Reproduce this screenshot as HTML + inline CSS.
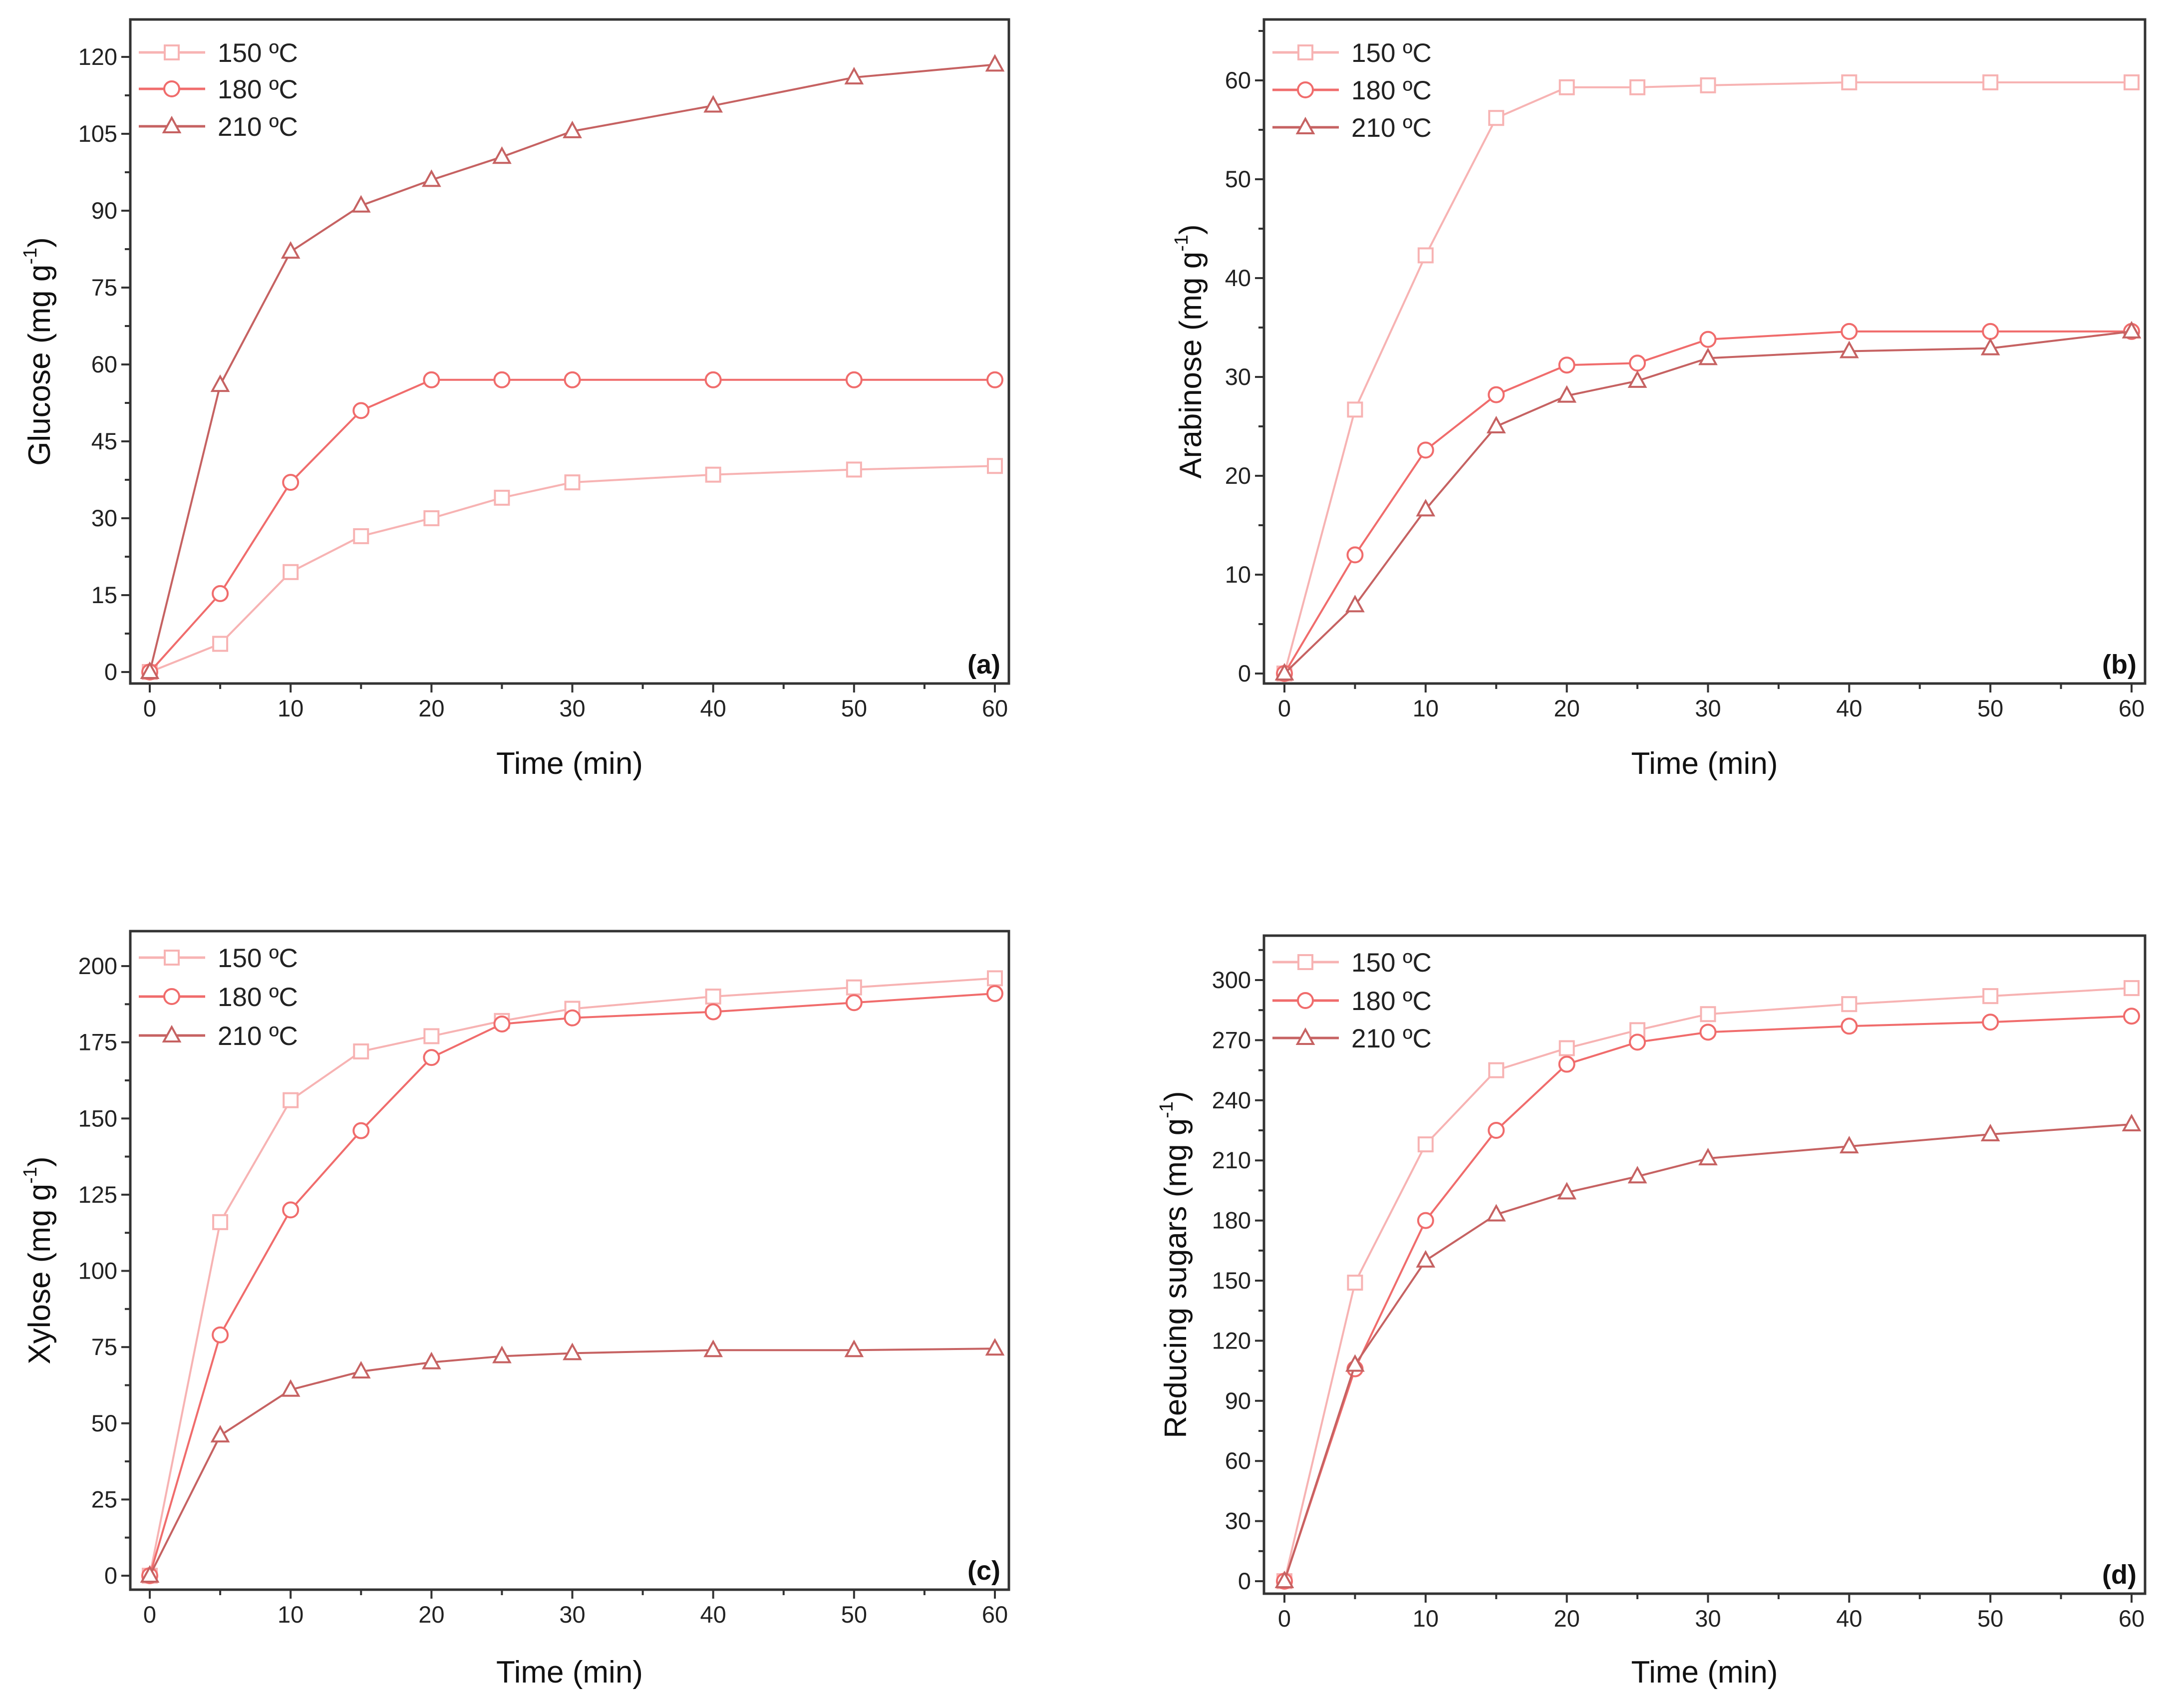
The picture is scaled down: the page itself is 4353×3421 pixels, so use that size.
<!DOCTYPE html>
<html><head><meta charset="utf-8"><style>
html,body{margin:0;padding:0;background:#fff;}
svg{display:block;font-family:"Liberation Sans",Arial,sans-serif;}
</style></head><body>
<svg id="fig" width="4353" height="3421" viewBox="0 0 4353 3421" xmlns="http://www.w3.org/2000/svg"></svg>
<script>
const times = [0,5,10,15,20,25,30,40,50,60];
const seriesNames = ["150 ºC","180 ºC","210 ºC"];
const glucose150 = [0,5.5,19.5,26.5,30,34,37,38.5,39.5,40.2];
const glucose180 = [0,15.3,37,51,57,57,57,57,57,57];
const glucose210 = [0,56,82,91,96,100.5,105.5,110.5,116,118.5];
const arabinose150 = [0,26.7,42.3,56.2,59.3,59.3,59.5,59.8,59.8,59.8];
const arabinose180 = [0,12,22.6,28.2,31.2,31.4,33.8,34.6,34.6,34.6];
const arabinose210 = [0,6.9,16.6,25,28.1,29.6,31.9,32.6,32.9,34.6];
const xylose150 = [0,116,156,172,177,182,186,190,193,196];
const xylose180 = [0,79,120,146,170,181,183,185,188,191];
const xylose210 = [0,46,61,67,70,72,73,74,74,74.5];
const reducing150 = [0,149,218,255,266,275,283,288,292,296];
const reducing180 = [0,106,180,225,258,269,274,277,279,282];
const reducing210 = [0,108,160,183,194,202,211,217,223,228];
const xTicks = [0,10,20,30,40,50,60];
const glucoseTicks = [0,15,30,45,60,75,90,105,120];
const arabinoseTicks = [0,10,20,30,40,50,60];
const xyloseTicks = [0,25,50,75,100,125,150,175,200];
const reducingTicks = [0,30,60,90,120,150,180,210,240,270,300];

const NS="http://www.w3.org/2000/svg";
const svg=document.getElementById('fig');
const colors=["#f7b3b3","#f06c6c","#c66262"];
function mk(tag,attrs,parent){const e=document.createElementNS(NS,tag);for(const k in attrs)e.setAttribute(k,attrs[k]);(parent||svg).appendChild(e);return e;}

const panels=[
 {id:"glucose",label:"(a)",title:"Glucose",series:[glucose150,glucose180,glucose210],ticks:glucoseTicks,minor:7.5,
  box:[261,39,2021,1369],x0:300,x1:1993,y0:1346,yv:120,y1:114,ylabX:80,xlabY:1550,legY:[105,178,253]},
 {id:"arabinose",label:"(b)",title:"Arabinose",series:[arabinose150,arabinose180,arabinose210],ticks:arabinoseTicks,minor:5,
  box:[2532,39,4297,1369],x0:2573,x1:4270,y0:1349,yv:60,y1:161,ylabX:2386,xlabY:1550,legY:[105,180,255]},
 {id:"xylose",label:"(c)",title:"Xylose",series:[xylose150,xylose180,xylose210],ticks:xyloseTicks,minor:12.5,
  box:[261,1865,2021,3184],x0:300,x1:1993,y0:3156,yv:200,y1:1935,ylabX:80,xlabY:3370,legY:[1918,1996,2074]},
 {id:"reducing-sugars",label:"(d)",title:"Reducing sugars",series:[reducing150,reducing180,reducing210],ticks:reducingTicks,minor:15,
  box:[2532,1874,4297,3192],x0:2573,x1:4270,y0:3167,yv:300,y1:1963,ylabX:2356,xlabY:3370,legY:[1927,2004,2079]}
];

function marker(g,k,x,y,c){
  let m;
  if(k===0){m=mk('rect',{x:x-14,y:y-14,width:28,height:28,fill:'#fff',stroke:c,'stroke-width':4},g);}
  else if(k===1){m=mk('circle',{cx:x,cy:y,r:15,fill:'#fff',stroke:c,'stroke-width':4},g);}
  else{m=mk('polygon',{points:`${x},${y-17} ${x-16},${y+12} ${x+16},${y+12}`,fill:'#fff',stroke:c,'stroke-width':4},g);}
  
}

panels.forEach(p=>{
  const g=mk('g',{});
  
  
  const sx=v=>p.x0+(v/60)*(p.x1-p.x0);
  const sy=v=>p.y0+(v/p.yv)*(p.y1-p.y0);
  const [L,T,R,B]=p.box;
  const frame=mk('rect',{x:L,y:T,width:R-L,height:B-T,fill:'none',stroke:'#333','stroke-width':5},g);
  
  
  for(let v=0;v<=60;v+=5){
    const major=v%10===0;
    const t=mk('line',{x1:sx(v),x2:sx(v),y1:B,y2:B+(major?18:11),stroke:'#333','stroke-width':4},g);
    
    
  }
  xTicks.forEach(v=>{
    const t=mk('text',{x:sx(v),y:B+66,'font-size':47,'text-anchor':'middle',fill:'#222'},g);
    t.textContent=v;
    
    
  });
  const top=p.yv*(T-p.y0)/(p.y1-p.y0);
  for(let v=0;v<=top+0.001;v+=p.minor){
    const major=Math.abs(v/ (p.minor*2)-Math.round(v/(p.minor*2)))<1e-6;
    const t=mk('line',{x1:L,x2:L-(major?18:11),y1:sy(v),y2:sy(v),stroke:'#333','stroke-width':4},g);
    
    
  }
  p.ticks.forEach(v=>{
    const t=mk('text',{x:L-26,y:sy(v)+16,'font-size':47,'text-anchor':'end',fill:'#222'},g);
    t.textContent=v;
    
    
  });
  p.series.forEach((arr,k)=>{
    const sg=mk('g',{},g);
    
    
    const pts=arr.map((v,i)=>sx(times[i])+','+sy(v)).join(' ');
    const pl=mk('polyline',{points:pts,fill:'none',stroke:colors[k],'stroke-width':4},sg);
    
    
    arr.forEach((v,i)=>marker(sg,k,sx(times[i]),sy(v),colors[k]));
  });
  seriesNames.forEach((n,k)=>{
    const lg=mk('g',{},g);
    
    
    const y=p.legY[k];
    const ln=mk('line',{x1:L+17,x2:L+150,y1:y,y2:y,stroke:colors[k],'stroke-width':5},lg);
    
    
    marker(lg,k,L+83,y,colors[k]);
    const t=mk('text',{x:L+175,y:y+19,'font-size':53,fill:'#222'},lg);
    t.textContent=n;
    
    
  });
  const pl=mk('text',{x:R-17,y:B-20,'font-size':54,'font-weight':'bold','text-anchor':'end',fill:'#111'},g);
  pl.textContent=p.label;
  
  
  const xt=mk('text',{x:(L+R)/2,y:p.xlabY,'font-size':62,'text-anchor':'middle',fill:'#111'},g);
  xt.textContent='Time (min)';
  
  
  const cy=(T+B)/2;
  const yt=mk('text',{x:p.ylabX,y:cy,'font-size':62,'text-anchor':'middle',fill:'#111',transform:`rotate(-90 ${p.ylabX} ${cy})`,dy:20},g);
  
  
  yt.appendChild(document.createTextNode(p.title+' (mg g'));
  const sup=mk('tspan',{dy:-27,'font-size':38},yt);
  sup.textContent='-1';
  const cl=mk('tspan',{dy:27},yt);
  cl.textContent=')';
});
</script>
</body></html>
